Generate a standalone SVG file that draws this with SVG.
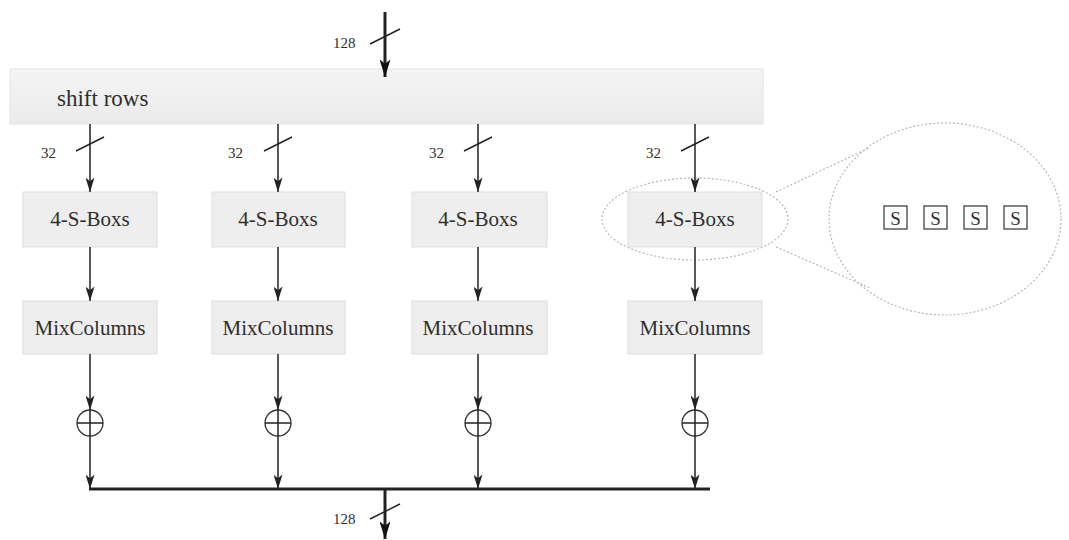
<svg xmlns="http://www.w3.org/2000/svg" width="1069" height="540" viewBox="0 0 1069 540">
  <style>
    .box { fill: #eeeeee; stroke: #dddddd; stroke-width: 1; }
    .lbl { font-family: "Liberation Serif", "Times New Roman", serif; fill: #2e2e2e; }
    .big { font-size: 23px; }
    .mid { font-size: 21px; }
    .small { font-size: 15px; }
    .wire { stroke: #222222; stroke-width: 1.5; fill: none; }
    .bus { stroke: #222222; stroke-width: 3; fill: none; }
    .slash { stroke: #222222; stroke-width: 1.4; fill: none; }
    .xor { stroke: #333333; stroke-width: 1.3; fill: #ffffff; }
    .dots { stroke: #b8b8b8; stroke-width: 1.2; stroke-dasharray: 2 2; fill: none; }
    .sbox { fill: #ffffff; stroke: #444444; stroke-width: 1.3; }
  </style>
  <defs>
    <linearGradient id="grey" x1="0" y1="0" x2="0" y2="1">
      <stop offset="0" stop-color="#f4f4f4"/>
      <stop offset="1" stop-color="#ebebeb"/>
    </linearGradient>
    <!-- arrowheads drawn along +x so orient="auto" points them down the wire -->
    <marker id="ah" viewBox="0 0 16 10" refX="16" refY="5" markerWidth="16" markerHeight="9" markerUnits="userSpaceOnUse" orient="auto">
      <path d="M0,0 L16,5 L0,10 L4,5 Z" fill="#222222"/>
    </marker>
    <marker id="ahb" viewBox="0 0 16 10" refX="16" refY="5" markerWidth="20" markerHeight="11" markerUnits="userSpaceOnUse" orient="auto">
      <path d="M0,0 L16,5 L0,10 L4,5 Z" fill="#111111"/>
    </marker>
  </defs>

  <!-- shift rows stage -->
  <g id="shift-rows">
    <rect x="10" y="69" width="753" height="55" fill="url(#grey)" stroke="#e2e2e2"/>
    <text class="lbl big" x="57" y="106">shift rows</text>
  </g>

  <!-- column 1 -->
  <g id="sbox-1">
    <rect class="box" x="23" y="192" width="134" height="55" fill="url(#grey)"/>
    <text class="lbl mid" x="90" y="226" text-anchor="middle">4-S-Boxs</text>
  </g>
  <g id="mix-1">
    <rect class="box" x="23" y="301" width="134" height="53" fill="url(#grey)"/>
    <text class="lbl mid" x="90" y="335" text-anchor="middle">MixColumns</text>
  </g>
  <g id="xor-1">
    <circle class="xor" cx="90" cy="423" r="13"/>
    <line class="wire" x1="77" y1="423" x2="103" y2="423" stroke-width="1.3"/>
    <line class="wire" x1="90" y1="410" x2="90" y2="436" stroke-width="1.3"/>
  </g>

  <!-- column 2 -->
  <g id="sbox-2">
    <rect class="box" x="212" y="192" width="133" height="55" fill="url(#grey)"/>
    <text class="lbl mid" x="278" y="226" text-anchor="middle">4-S-Boxs</text>
  </g>
  <g id="mix-2">
    <rect class="box" x="212" y="301" width="133" height="53" fill="url(#grey)"/>
    <text class="lbl mid" x="278" y="335" text-anchor="middle">MixColumns</text>
  </g>
  <g id="xor-2">
    <circle class="xor" cx="278" cy="423" r="13"/>
    <line class="wire" x1="265" y1="423" x2="291" y2="423" stroke-width="1.3"/>
    <line class="wire" x1="278" y1="410" x2="278" y2="436" stroke-width="1.3"/>
  </g>

  <!-- column 3 -->
  <g id="sbox-3">
    <rect class="box" x="412" y="192" width="135" height="55" fill="url(#grey)"/>
    <text class="lbl mid" x="478" y="226" text-anchor="middle">4-S-Boxs</text>
  </g>
  <g id="mix-3">
    <rect class="box" x="412" y="301" width="135" height="53" fill="url(#grey)"/>
    <text class="lbl mid" x="478" y="335" text-anchor="middle">MixColumns</text>
  </g>
  <g id="xor-3">
    <circle class="xor" cx="478" cy="423" r="13"/>
    <line class="wire" x1="465" y1="423" x2="491" y2="423" stroke-width="1.3"/>
    <line class="wire" x1="478" y1="410" x2="478" y2="436" stroke-width="1.3"/>
  </g>

  <!-- column 4 -->
  <g id="sbox-4">
    <rect class="box" x="628" y="192" width="134" height="55" fill="url(#grey)"/>
    <text class="lbl mid" x="695" y="226" text-anchor="middle">4-S-Boxs</text>
  </g>
  <g id="mix-4">
    <rect class="box" x="628" y="301" width="134" height="53" fill="url(#grey)"/>
    <text class="lbl mid" x="695" y="335" text-anchor="middle">MixColumns</text>
  </g>
  <g id="xor-4">
    <circle class="xor" cx="695" cy="423" r="13"/>
    <line class="wire" x1="682" y1="423" x2="708" y2="423" stroke-width="1.3"/>
    <line class="wire" x1="695" y1="410" x2="695" y2="436" stroke-width="1.3"/>
  </g>

  <!-- magnified view of one 4-S-Boxs block -->
  <g id="zoom-detail">
    <ellipse class="dots" cx="695" cy="219" rx="93" ry="41"/>
    <line class="dots" x1="776" y1="192" x2="869" y2="148"/>
    <line class="dots" x1="776" y1="247" x2="870" y2="288"/>
    <ellipse class="dots" cx="945" cy="219" rx="116" ry="96"/>
    <g id="s-cells">
      <rect class="sbox" x="884" y="206" width="23" height="23"/>
      <text class="lbl" x="895.5" y="224.5" font-size="19" text-anchor="middle">S</text>
      <rect class="sbox" x="924" y="206" width="23" height="23"/>
      <text class="lbl" x="935.5" y="224.5" font-size="19" text-anchor="middle">S</text>
      <rect class="sbox" x="964" y="206" width="23" height="23"/>
      <text class="lbl" x="975.5" y="224.5" font-size="19" text-anchor="middle">S</text>
      <rect class="sbox" x="1004" y="206" width="23" height="23"/>
      <text class="lbl" x="1015.5" y="224.5" font-size="19" text-anchor="middle">S</text>
    </g>
  </g>

  <!-- connectors -->
  <g id="connectors">
    <!-- 128-bit input -->
    <line class="bus" x1="385" y1="12" x2="385" y2="77" marker-end="url(#ahb)"/>
    <line class="slash" x1="370" y1="44" x2="400" y2="29"/>
    <text class="lbl small" x="333" y="48">128</text>

    <!-- 32-bit lanes into the S-boxes -->
    <line class="wire" x1="90" y1="124" x2="90" y2="192" marker-end="url(#ah)"/>
    <line class="slash" x1="76" y1="151" x2="104" y2="137"/>
    <text class="lbl small" x="41" y="158">32</text>

    <line class="wire" x1="278" y1="124" x2="278" y2="192" marker-end="url(#ah)"/>
    <line class="slash" x1="264" y1="151" x2="292" y2="137"/>
    <text class="lbl small" x="228" y="158">32</text>

    <line class="wire" x1="478" y1="124" x2="478" y2="192" marker-end="url(#ah)"/>
    <line class="slash" x1="464" y1="151" x2="492" y2="137"/>
    <text class="lbl small" x="429" y="158">32</text>

    <line class="wire" x1="695" y1="124" x2="695" y2="192" marker-end="url(#ah)"/>
    <line class="slash" x1="681" y1="151" x2="709" y2="137"/>
    <text class="lbl small" x="646" y="158">32</text>

    <!-- S-boxes to MixColumns -->
    <line class="wire" x1="90" y1="247" x2="90" y2="301" marker-end="url(#ah)"/>
    <line class="wire" x1="278" y1="247" x2="278" y2="301" marker-end="url(#ah)"/>
    <line class="wire" x1="478" y1="247" x2="478" y2="301" marker-end="url(#ah)"/>
    <line class="wire" x1="695" y1="247" x2="695" y2="301" marker-end="url(#ah)"/>

    <!-- MixColumns to key addition -->
    <line class="wire" x1="90" y1="354" x2="90" y2="410" marker-end="url(#ah)"/>
    <line class="wire" x1="278" y1="354" x2="278" y2="410" marker-end="url(#ah)"/>
    <line class="wire" x1="478" y1="354" x2="478" y2="410" marker-end="url(#ah)"/>
    <line class="wire" x1="695" y1="354" x2="695" y2="410" marker-end="url(#ah)"/>

    <!-- key addition to output bus -->
    <line class="wire" x1="90" y1="436" x2="90" y2="489" marker-end="url(#ah)"/>
    <line class="wire" x1="278" y1="436" x2="278" y2="489" marker-end="url(#ah)"/>
    <line class="wire" x1="478" y1="436" x2="478" y2="489" marker-end="url(#ah)"/>
    <line class="wire" x1="695" y1="436" x2="695" y2="489" marker-end="url(#ah)"/>

    <!-- 128-bit output -->
    <line class="bus" x1="89" y1="489" x2="710" y2="489"/>
    <line class="bus" x1="385" y1="489" x2="385" y2="539" marker-end="url(#ahb)"/>
    <line class="slash" x1="370" y1="519" x2="400" y2="504"/>
    <text class="lbl small" x="333" y="524">128</text>
  </g>
</svg>
